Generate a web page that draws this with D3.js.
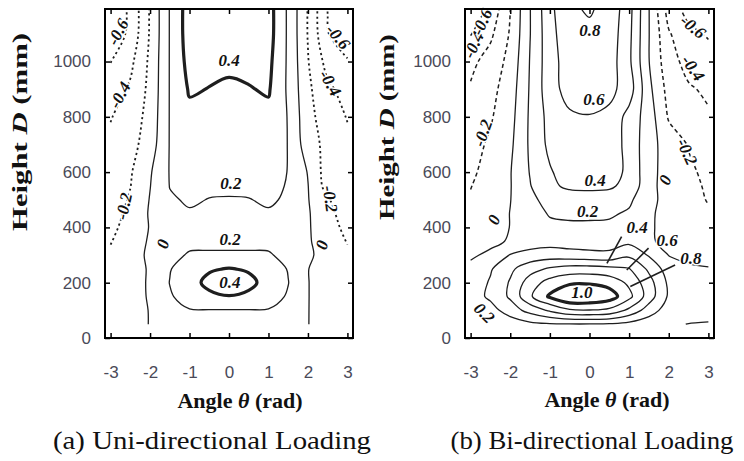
<!DOCTYPE html>
<html>
<head>
<meta charset="utf-8">
<script src="https://cdn.jsdelivr.net/npm/d3@7"></script>
<style>
  html, body { margin: 0; padding: 0; background: #fff; }
  svg { display: block; }
</style>
</head>
<body>
<svg id="chart" width="744" height="461"></svg>
<script>
// Measurement grid: angle columns (rad) and height rows (mm)
const thetaCols = [-3, -2.5, -2, -1.5, -1, -0.5, 0, 0.5, 1, 1.5, 2, 2.5, 3];
const heightRows = [50, 100, 150, 200, 250, 300, 350, 400, 450, 500, 550, 600, 700, 800, 900, 1000, 1100, 1200];

// (a) uni-directional loading, one row per height
const uniGrid = [
  [-0.15, -0.10,  0.01,  0.10,  0.14,  0.15,  0.15,  0.15,  0.14,  0.10,  0.005, -0.10, -0.15],
  [-0.14, -0.09,  0.01,  0.13,  0.19,  0.19,  0.19,  0.19,  0.19,  0.13,  0.005, -0.09, -0.14],
  [-0.13, -0.08,  0.02,  0.18,  0.28,  0.36,  0.395, 0.36,  0.28,  0.18,  0.005, -0.08, -0.13],
  [-0.12, -0.07,  0.02,  0.205, 0.33,  0.45,  0.47,  0.45,  0.33,  0.205, 0.005, -0.08, -0.12],
  [-0.14, -0.08,  0.02,  0.19,  0.30,  0.38,  0.41,  0.38,  0.30,  0.19,  0.005, -0.10, -0.14],
  [-0.17, -0.07,  0.03,  0.17,  0.21,  0.215, 0.215, 0.215, 0.21,  0.17,  0.03,  -0.07, -0.17],
  [-0.21, -0.09,  0.02,  0.14,  0.175, 0.17,  0.17,  0.17,  0.175, 0.14,  0.02,  -0.09, -0.21],
  [-0.25, -0.12,  0.01,  0.12,  0.16,  0.155, 0.15,  0.155, 0.16,  0.12,  0.02,  -0.12, -0.25],
  [-0.28, -0.15,  0.02,  0.15,  0.185, 0.17,  0.165, 0.17,  0.185, 0.15,  0.02,  -0.15, -0.28],
  [-0.30, -0.18,  0.01,  0.18,  0.22,  0.195, 0.19,  0.195, 0.22,  0.18,  0.01,  -0.19, -0.28],
  [-0.31, -0.205,-0.005, 0.205, 0.24,  0.23,  0.23,  0.23,  0.24,  0.19,  0.005, -0.28, -0.33],
  [-0.32, -0.22, -0.02,  0.21,  0.27,  0.26,  0.26,  0.26,  0.27,  0.195, -0.01, -0.30, -0.35],
  [-0.36, -0.27, -0.10,  0.21,  0.30,  0.30,  0.29,  0.30,  0.30,  0.195, -0.11, -0.26, -0.36],
  [-0.41, -0.31, -0.13,  0.21,  0.35,  0.34,  0.33,  0.34,  0.35,  0.19,  -0.14, -0.30, -0.41],
  [-0.50, -0.37, -0.15,  0.21,  0.42,  0.395, 0.37,  0.39,  0.42,  0.17,  -0.16, -0.36, -0.48],
  [-0.605,-0.45, -0.16,  0.21,  0.47,  0.45,  0.44,  0.45,  0.45,  0.17,  -0.19, -0.47, -0.58],
  [-0.75, -0.55, -0.18,  0.21,  0.50,  0.47,  0.46,  0.47,  0.48,  0.17,  -0.21, -0.59, -0.75],
  [-0.76, -0.56, -0.18,  0.21,  0.50,  0.47,  0.46,  0.47,  0.48,  0.17,  -0.21, -0.605,-0.76]
];

// (b) bi-directional loading, one row per height
const biGrid = [
  [ 0.02,  0.05,  0.08,  0.15,  0.18,  0.19,  0.19,  0.18,  0.14,  0.08,  0.03,  -0.005,-0.02],
  [ 0.05,  0.12,  0.30,  0.47,  0.63,  0.77,  0.79,  0.75,  0.55,  0.30,  0.10,   0.10,  0.10],
  [ 0.10,  0.24,  0.43,  0.77,  1.03,  1.20,  1.18,  1.10,  0.86,  0.50,  0.17,   0.10,  0.06],
  [ 0.08,  0.22,  0.42,  0.70,  0.88,  0.97,  0.98,  0.93,  0.76,  0.48,  0.16,   0.08,  0.05],
  [ 0.05,  0.18,  0.36,  0.52,  0.63,  0.69,  0.69,  0.66,  0.61,  0.36,  0.10,   0.03,  0.01],
  [-0.03,  0.04,  0.21,  0.27,  0.30,  0.28,  0.26,  0.25,  0.36,  0.18, -0.005, -0.05, -0.06],
  [-0.10, -0.05,  0.02,  0.10,  0.12,  0.10,  0.09,  0.10,  0.15,  0.05, -0.10,  -0.15, -0.17],
  [-0.14, -0.10,  0.005, 0.12,  0.16,  0.17,  0.17,  0.17,  0.16,  0.05, -0.12,  -0.17, -0.19],
  [-0.17, -0.12,  0.005, 0.12,  0.215, 0.23,  0.23,  0.22,  0.18,  0.06, -0.13,  -0.18, -0.19],
  [-0.185,-0.13, -0.005, 0.16,  0.26,  0.32,  0.32,  0.31,  0.23,  0.08, -0.10,  -0.17, -0.205],
  [-0.205,-0.13, -0.01,  0.19,  0.37,  0.43,  0.44,  0.43,  0.34,  0.07, -0.10,  -0.16, -0.22],
  [-0.22, -0.16, -0.01,  0.21,  0.38,  0.50,  0.52,  0.50,  0.35,  0.07, -0.09,  -0.17, -0.24],
  [-0.27, -0.17, -0.04,  0.23,  0.45,  0.55,  0.57,  0.52,  0.33,  0.08, -0.10,  -0.21, -0.28],
  [-0.36, -0.22, -0.07,  0.23,  0.47,  0.57,  0.59,  0.55,  0.33,  0.10, -0.22,  -0.32, -0.38],
  [-0.38, -0.26, -0.10,  0.22,  0.52,  0.68,  0.70,  0.66,  0.50,  0.05, -0.27,  -0.38, -0.43],
  [-0.45, -0.32, -0.14,  0.21,  0.52,  0.70,  0.74,  0.70,  0.44,  0.005,-0.33,  -0.46, -0.52],
  [-0.61, -0.44, -0.18,  0.195, 0.53,  0.74,  0.77,  0.72,  0.45,  0.005,-0.38,  -0.55, -0.62],
  [-0.75, -0.57, -0.205, 0.195, 0.55,  0.78,  0.82,  0.75,  0.47,  0.005,-0.50,  -0.68, -0.75]
];

const uniLevels = [-0.6, -0.4, -0.2, 0, 0.2, 0.4];
const biLevels = [-0.6, -0.4, -0.2, 0, 0.2, 0.4, 0.6, 0.8, 1.0];
const uniBoldLevels = [0.4];
const biBoldLevels = [1.0];

const thetaTicks = [-3, -2, -1, 0, 1, 2, 3];
const heightTicks = [0, 200, 400, 600, 800, 1000];

// contour labels: text, angle (rad), height (mm), text rotation (deg)
const uniLabels = [
  ["0.4", 0.0, 1005, 0],
  ["0.2", 0.05, 560, 0],
  ["0.2", 0.03, 358, 0],
  ["0.4", 0.02, 199, 0],
  ["0", -1.67, 340, -72],
  ["0", 2.36, 336, -72],
  ["-0.2", -2.66, 477, -78],
  ["-0.2", 2.56, 503, 82],
  ["-0.4", -2.76, 879, -62],
  ["-0.4", 2.56, 922, 60],
  ["-0.6", -2.81, 1107, -62],
  ["-0.6", 2.76, 1089, 50]
];
const biLabels = [
  ["0.8", 0.01, 1114, 0],
  ["0.6", 0.11, 861, 0],
  ["0.4", 0.14, 571, 0],
  ["0.2", -0.05, 459, 0],
  ["0", -2.41, 427, -65],
  ["0", 1.91, 571, -65],
  ["-0.2", -2.69, 741, -70],
  ["-0.2", 2.46, 673, 65],
  ["-0.4", -2.92, 1060, -65],
  ["-0.6", -2.71, 1143, -65],
  ["-0.6", 2.61, 1125, 40],
  ["-0.4", 2.61, 976, 55],
  ["0.4", 1.2, 401, 0],
  ["0.6", 1.96, 354, 0],
  ["0.8", 2.56, 289, 0],
  ["1.0", -0.19, 163, 0],
  ["0.2", -2.66, 90, 45]
];
// leader lines from the ring labels to their rings: [theta1, D1, theta2, D2]
const biLeaders = [
  [0.81, 367, 0.44, 270],
  [1.49, 325, 0.94, 246],
  [2.16, 264, 1.03, 186]
];

const captions = ["(a) Uni-directional Loading", "(b) Bi-directional Loading"];

const panels = [
  { id: "a", grid: uniGrid, levels: uniLevels, bold: uniBoldLevels, labels: uniLabels, leaders: [],
    x0: 105, x1: 353, dash: "2.2,3", dashWidth: 1.8, caption: captions[0], capX: 212, capLen: 318,
    yTitleX: 27, yTitleY: 132, yTitleLen: 198, xTitleX: 240, xTitleY: 408 },
  { id: "b", grid: biGrid, levels: biLevels, bold: biBoldLevels, labels: biLabels, leaders: biLeaders,
    x0: 465, x1: 714, dash: "4,3", dashWidth: 1.5, caption: captions[1], capX: 592, capLen: 283,
    yTitleX: 394, yTitleY: 127, yTitleLen: 186, xTitleX: 607, xTitleY: 407 }
];

const yTop = 9, yBottom = 338;
const serif = "'Liberation Serif', 'Times New Roman', serif";
const sans = "'Liberation Sans', Arial, sans-serif";
const ink = "#1e1e1e";

const svg = d3.select("#chart");
svg.append("rect").attr("width", 744).attr("height", 461).attr("fill", "#fff");

const nx = thetaCols.length, ny = heightRows.length;
// grid index -> physical value (piecewise, rows are not evenly spaced)
const colToTheta = d3.scaleLinear().domain(d3.range(nx)).range(thetaCols);
const rowToHeight = d3.scaleLinear().domain(d3.range(ny)).range(heightRows);

// Split contour rings into open isolines, dropping the parts running along the grid border
function isolines(multi) {
  const out = [];
  const eps = 1e-6;
  const onEdge = p => p[0] <= eps || p[0] >= nx - eps || p[1] <= eps || p[1] >= ny - eps;
  multi.coordinates.forEach(poly => poly.forEach(ring => {
    const pts = ring.slice(0, ring.length - 1);
    const k0 = pts.findIndex(onEdge);
    if (k0 < 0) { out.push({ closed: true, pts }); return; }
    let run = [];
    for (let k = 1; k <= pts.length; k++) {
      const p = pts[(k0 + k) % pts.length];
      if (onEdge(p)) {
        if (run.length > 1) out.push({ closed: false, pts: run });
        run = [];
      } else run.push(p);
    }
    if (run.length > 1) out.push({ closed: false, pts: run });
  }));
  return out;
}

function drawPanel(p) {
  const x = d3.scaleLinear().domain([-Math.PI, Math.PI]).range([p.x0, p.x1]);
  const y = d3.scaleLinear().domain([0, 1190]).range([yBottom, yTop]);
  const g = svg.append("g");

  const clipId = "clip-" + p.id;
  svg.append("clipPath").attr("id", clipId)
    .append("rect").attr("x", p.x0).attr("y", yTop)
    .attr("width", p.x1 - p.x0).attr("height", yBottom - yTop);

  const px = c => x(colToTheta(c[0] - 0.5));
  const py = c => y(rowToHeight(c[1] - 0.5));
  const openLine = d3.line().x(px).y(py).curve(d3.curveCatmullRom.alpha(0.5));
  const closedLine = d3.line().x(px).y(py).curve(d3.curveCatmullRomClosed.alpha(0.5));

  const contours = d3.contours().size([nx, ny]).thresholds(p.levels)(p.grid.flat());
  const lines = g.append("g").attr("clip-path", `url(#${clipId})`).attr("fill", "none");
  contours.forEach(c => {
    const isBold = p.bold.some(b => Math.abs(b - c.value) < 1e-9);
    const negative = c.value < 0;
    isolines(c).forEach(seg => {
      lines.append("path")
        .attr("d", seg.closed ? closedLine(seg.pts) : openLine(seg.pts))
        .attr("stroke", ink)
        .attr("stroke-width", isBold ? 3.2 : (negative ? p.dashWidth : 1.3))
        .attr("stroke-linejoin", "round")
        .attr("stroke-dasharray", negative ? p.dash : null);
    });
  });

  // leader lines for ring labels
  p.leaders.forEach(l => {
    g.append("line")
      .attr("x1", x(l[0])).attr("y1", y(l[1]))
      .attr("x2", x(l[2])).attr("y2", y(l[3]))
      .attr("stroke", ink).attr("stroke-width", 1.6);
  });

  // contour labels
  p.labels.forEach(l => {
    g.append("text")
      .attr("transform", `translate(${x(l[1])},${y(l[2])}) rotate(${l[3]})`)
      .attr("text-anchor", "middle")
      .attr("dominant-baseline", "central")
      .attr("font-family", serif)
      .attr("font-style", "italic")
      .attr("font-weight", "bold")
      .attr("font-size", 17)
      .attr("fill", "#111")
      .attr("stroke", "#fff")
      .attr("stroke-width", 3)
      .attr("paint-order", "stroke")
      .text(l[0]);
  });

  // axes: inward ticks on all four sides
  const styleAxis = sel => {
    sel.select(".domain").remove();
    sel.selectAll(".tick line").attr("stroke", "#000").attr("stroke-width", 1.5);
    sel.selectAll(".tick text").attr("font-family", sans).attr("font-size", 17).attr("fill", "#4a4a58");
  };
  g.append("g").attr("transform", `translate(0,${yBottom})`)
    .call(d3.axisBottom(x).tickValues(thetaTicks).tickSize(-5).tickPadding(28).tickFormat(d => String(d)))
    .call(styleAxis);
  g.append("g").attr("transform", `translate(0,${yTop})`)
    .call(d3.axisTop(x).tickValues(thetaTicks).tickSize(-5).tickFormat(() => ""))
    .call(styleAxis);
  g.append("g").attr("transform", `translate(${p.x0},0)`)
    .call(d3.axisLeft(y).tickValues(heightTicks).tickSize(-5).tickPadding(14).tickFormat(d => String(d)))
    .call(styleAxis);
  g.append("g").attr("transform", `translate(${p.x1},0)`)
    .call(d3.axisRight(y).tickValues(heightTicks).tickSize(-5).tickFormat(() => ""))
    .call(styleAxis);

  // frame
  g.append("rect")
    .attr("x", p.x0).attr("y", yTop)
    .attr("width", p.x1 - p.x0).attr("height", yBottom - yTop)
    .attr("fill", "none").attr("stroke", "#000").attr("stroke-width", 2);

  // axis titles
  const yt = g.append("text")
    .attr("transform", `translate(${p.yTitleX},${p.yTitleY}) rotate(-90)`)
    .attr("text-anchor", "middle")
    .attr("font-family", serif).attr("font-weight", "bold").attr("font-size", 22)
    .attr("fill", "#111")
    .attr("textLength", p.yTitleLen).attr("lengthAdjust", "spacingAndGlyphs");
  yt.append("tspan").text("Height ");
  yt.append("tspan").attr("font-style", "italic").text("D");
  yt.append("tspan").text(" (mm)");

  const xt = g.append("text")
    .attr("x", p.xTitleX).attr("y", p.xTitleY)
    .attr("text-anchor", "middle")
    .attr("font-family", serif).attr("font-weight", "bold").attr("font-size", 22)
    .attr("fill", "#111");
  xt.append("tspan").text("Angle ");
  xt.append("tspan").attr("font-style", "italic").text("θ");
  xt.append("tspan").text(" (rad)");

  // caption
  g.append("text")
    .attr("x", p.capX).attr("y", 449)
    .attr("text-anchor", "middle")
    .attr("font-family", serif).attr("font-size", 26)
    .attr("fill", "#111")
    .attr("textLength", p.capLen).attr("lengthAdjust", "spacingAndGlyphs")
    .text(p.caption);
}

panels.forEach(drawPanel);
</script>
</body>
</html>
